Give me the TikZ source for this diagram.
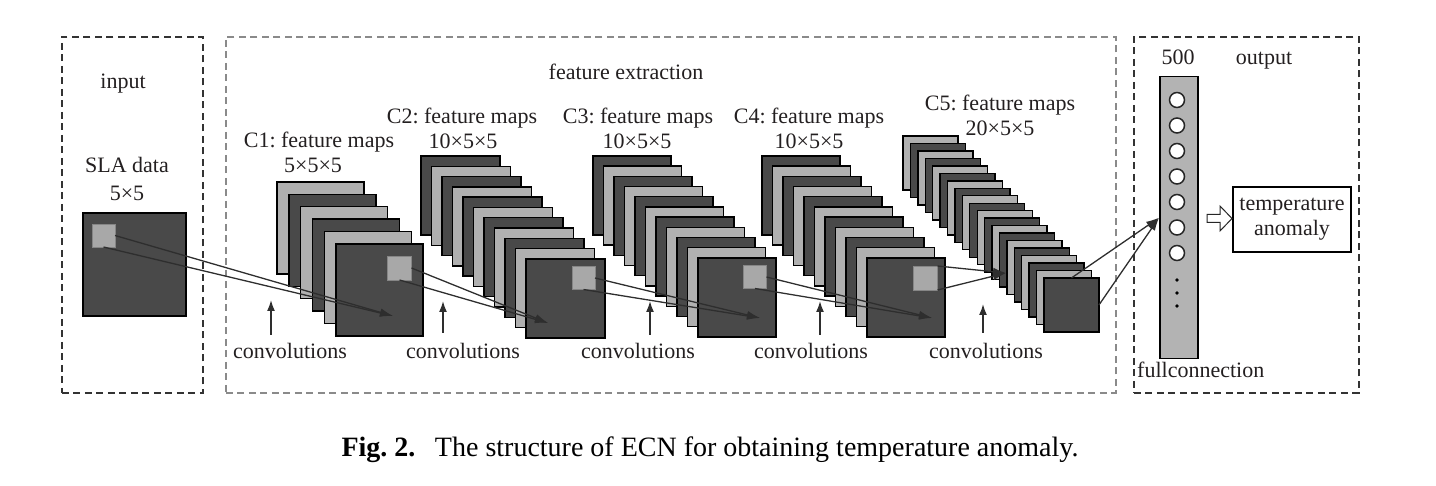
\documentclass[tikz,border=0pt]{standalone}
\usepackage{fontspec}
\setmainfont{Liberation Serif}
\usetikzlibrary{arrows.meta}
\frenchspacing
\definecolor{sheetD}{HTML}{494949}
\definecolor{sheetL}{HTML}{B0B0B0}
\definecolor{sqL}{HTML}{A8A8A8}
\definecolor{lineC}{HTML}{2E2E2E}
\definecolor{txt}{HTML}{231F20}
\definecolor{fcG}{HTML}{B3B3B3}
\definecolor{frameD}{HTML}{333333}
\definecolor{frameL}{HTML}{8A8A8A}

\newcommand\drawstack[9]{%
  \foreach \i in {0,...,#6}{%
    \pgfmathtruncatemacro\sheetpar{mod(\i+#9,2)}%
    \ifnum\sheetpar=0 \def\sheetcol{sheetL}\else\def\sheetcol{sheetD}\fi
    \node[sheet, fill=\sheetcol, minimum width=#7, minimum height=#8] (#1-\i) at ({#2+\i*#4},{#3+\i*#5}) {};
  }}

\tikzset{
  sheet/.style={draw=black, line width=1.4pt, anchor=north west, inner sep=0pt, outer sep=0pt},
  smallsq/.style={draw=sqL!80!black, line width=0.6pt, fill=sqL, inner sep=0pt, outer sep=0pt, minimum size=#1},
  lbl/.style={text=txt, font=\fontsize{22}{25}\selectfont, inner sep=0pt, anchor=base},
  conn/.style={draw=lineC, line width=1.3pt, -{Latex[length=13pt,width=8pt]}},
  uparrow/.style={draw=lineC, line width=1.6pt, -{Latex[length=11pt,width=8pt]}},
  frame/.style={line width=1.6pt, dash pattern=on 7pt off 4.5pt, anchor=north west, inner sep=0pt},
  neuron/.style={circle, draw=black!85, line width=1.5pt, fill=white, minimum size=15pt, inner sep=0pt},
  dotn/.style={circle, fill=black, minimum size=3.6pt, inner sep=0pt},
}

\begin{document}
\begin{tikzpicture}[x=1pt,y=-1pt]
\useasboundingbox (0,0) rectangle (1436,486);

% frames
\node[frame, draw=frameD, minimum width=141, minimum height=356] (inbox) at (61,36) {};
\node[frame, draw=frameL, minimum width=890, minimum height=356] (febox) at (225,36) {};
\node[frame, draw=frameD, minimum width=225, minimum height=356] (outbox) at (1133,36) {};

% input
\node[lbl] (tinput) at (123,89) {input};
\node[lbl] (tsla) at (127,173) {SLA data};
\node[lbl] (tsla2) at (127,201) {5×5};
\node[sheet, fill=sheetD, minimum width=103, minimum height=103] (inmap) at (83,213) {};
\node[smallsq=23pt] (insq) at (103.5,235.5) {};

% stacks
\drawstack{c1}{277}{182}{11.8}{12.4}{5}{87}{92}{0}
\drawstack{c2}{421}{156}{10.5}{10.3}{10}{79}{79}{1}
\drawstack{c3}{593}{156}{10.5}{10.2}{10}{78}{79}{1}
\drawstack{c4}{762}{156}{10.5}{10.2}{10}{78}{79}{1}
\drawstack{c5}{903}{136}{7.42}{7.47}{19}{55}{54}{0}

\node[smallsq=24pt] (c1sq) at (399.5,268) {};
\node[smallsq=23pt] (c2sq) at (583.5,278) {};
\node[smallsq=23pt] (c3sq) at (755,277) {};
\node[smallsq=24pt] (c4sq) at (925.5,278) {};

% labels
\node[lbl] (tfe) at (626,80) {feature extraction};
\node[lbl] (tc1) at (319,148) {C1: feature maps};
\node[lbl] (tc1b) at (313,173) {5×5×5};
\node[lbl] (tc2) at (462,124) {C2: feature maps};
\node[lbl] (tc2b) at (463,149) {10×5×5};
\node[lbl] (tc3) at (638,124) {C3: feature maps};
\node[lbl] (tc3b) at (637,149) {10×5×5};
\node[lbl] (tc4) at (809,124) {C4: feature maps};
\node[lbl] (tc4b) at (809,149) {10×5×5};
\node[lbl] (tc5) at (1000,111) {C5: feature maps};
\node[lbl] (tc5b) at (1000,136) {20×5×5};

\foreach \k/\xx in {1/290,2/463,3/638,4/811,5/986}{
  \node[lbl] (tconv\k) at (\xx,359) {convolutions};
}

% up arrows
\foreach \k/\xx/\yb/\yt in {1/271/335/300,2/443/333/301,3/650/335/301,4/820/335/301,5/983/333/304}{
  \coordinate (ub\k) at (\xx,\yb);
  \coordinate (ut\k) at (\xx,\yt);
  \draw[uparrow] (ub\k) -- (ut\k);
}

% full connection column
\node[draw=black, line width=1.5pt, fill=fcG, anchor=north west, minimum width=38, minimum height=282, inner sep=0pt] (fc) at (1159,76) {};
\foreach \k in {0,...,6}{
  \node[neuron] (n\k) at (1177,{100+\k*25.5}) {};
}
\foreach \k/\yy in {1/280,2/293,3/306}{
  \node[dotn] (d\k) at (1177,\yy) {};
}
\node[lbl] (t500) at (1178,65) {500};
\node[lbl] (tout) at (1264,65) {output};
\node[lbl, anchor=base west] (tfull) at (1137,378) {fullconnection};

\node[draw=black, line width=1.2pt, fill=white, minimum width=118, minimum height=65, inner sep=0pt, align=center, text=txt, font=\fontsize{22}{25}\selectfont] (ta) at (1292,219.5) {temperature\\anomaly};

% hollow arrow
\draw[line width=1pt, fill=white, draw=black!85] (1207,214.5) -- (1220,214.5) -- (1220,206) -- (1232,218.5) -- (1220,231) -- (1220,222.5) -- (1207,222.5) -- cycle;

% connections
\coordinate (t1) at (393,316);
\coordinate (t2) at (548,323);
\coordinate (t3) at (760,318);
\coordinate (t4) at (932,318);
\coordinate (t5) at (1006,273);
\draw[conn] (insq.east) -- (t1);
\draw[conn] (insq.south) -- (t1);
\draw[conn] (c1sq.east) -- (t2);
\draw[conn] (c1sq.south) -- (t2);
\draw[conn] (c2sq.east) -- (t3);
\draw[conn] (c2sq.south) -- (t3);
\draw[conn] (c3sq.east) -- (t4);
\draw[conn] (c3sq.south) -- (t4);
\draw[conn] (c4sq.north east) -- (t5);
\draw[conn] (c4sq.south east) -- (t5);
\draw[conn] (c5-19.north) -- (fc.west);
\draw[conn] (c5-19.east) -- (fc.west);

% caption
\node[anchor=base, inner sep=0pt, font=\fontsize{28}{32}\selectfont] (cap) at (710,456) {\textbf{Fig. 2.}\hspace{0.7em}The structure of ECN for obtaining temperature anomaly.};
\end{tikzpicture}
\end{document}
